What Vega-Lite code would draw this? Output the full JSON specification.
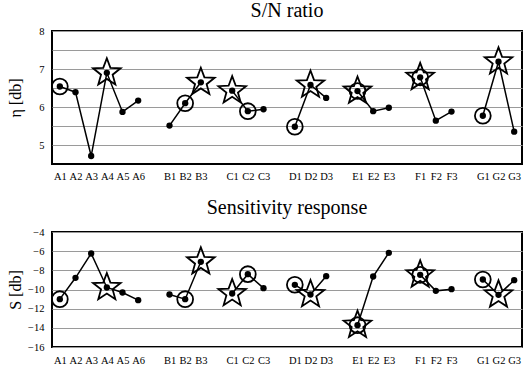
{
  "$schema": "https://vega.github.io/schema/vega-lite/v6.json",
  "padding": {"left": 6, "top": 0, "right": 0, "bottom": 0},
  "spacing": 14,
  "background": "white",
  "config": {
    "font": "'Liberation Serif', 'Times New Roman', serif",
    "view": {"stroke": "black", "strokeWidth": 2},
    "axis": {"domain": false, "ticks": false, "labelFont": "'Liberation Serif', 'Times New Roman', serif", "labelFontSize": 10.5, "labelColor": "black", "gridColor": "#9a9a9a", "gridWidth": 1, "titleFont": "'Liberation Serif', 'Times New Roman', serif", "titleFontWeight": "normal", "titleFontSize": 16, "titleColor": "black"},
    "title": {"font": "'Liberation Serif', 'Times New Roman', serif", "fontWeight": "normal", "fontSize": 20, "color": "black"}
  },
  "datasets": {
    "sn": [
      {"factor": "A", "level": "A1", "value": 6.54, "circle": true, "star": false},
      {"factor": "A", "level": "A2", "value": 6.39, "circle": false, "star": false},
      {"factor": "A", "level": "A3", "value": 4.71, "circle": false, "star": false},
      {"factor": "A", "level": "A4", "value": 6.90, "circle": false, "star": true},
      {"factor": "A", "level": "A5", "value": 5.87, "circle": false, "star": false},
      {"factor": "A", "level": "A6", "value": 6.17, "circle": false, "star": false},
      {"factor": "B", "level": "B1", "value": 5.51, "circle": false, "star": false},
      {"factor": "B", "level": "B2", "value": 6.10, "circle": true, "star": false},
      {"factor": "B", "level": "B3", "value": 6.65, "circle": false, "star": true},
      {"factor": "C", "level": "C1", "value": 6.43, "circle": false, "star": true},
      {"factor": "C", "level": "C2", "value": 5.89, "circle": true, "star": false},
      {"factor": "C", "level": "C3", "value": 5.94, "circle": false, "star": false},
      {"factor": "D", "level": "D1", "value": 5.48, "circle": true, "star": false},
      {"factor": "D", "level": "D2", "value": 6.58, "circle": false, "star": true},
      {"factor": "D", "level": "D3", "value": 6.24, "circle": false, "star": false},
      {"factor": "E", "level": "E1", "value": 6.42, "circle": true, "star": true},
      {"factor": "E", "level": "E2", "value": 5.89, "circle": false, "star": false},
      {"factor": "E", "level": "E3", "value": 5.98, "circle": false, "star": false},
      {"factor": "F", "level": "F1", "value": 6.78, "circle": true, "star": true},
      {"factor": "F", "level": "F2", "value": 5.64, "circle": false, "star": false},
      {"factor": "F", "level": "F3", "value": 5.88, "circle": false, "star": false},
      {"factor": "G", "level": "G1", "value": 5.77, "circle": true, "star": false},
      {"factor": "G", "level": "G2", "value": 7.19, "circle": false, "star": true},
      {"factor": "G", "level": "G3", "value": 5.35, "circle": false, "star": false}
    ],
    "sens": [
      {"factor": "A", "level": "A1", "value": -11.01, "circle": true, "star": false},
      {"factor": "A", "level": "A2", "value": -8.78, "circle": false, "star": false},
      {"factor": "A", "level": "A3", "value": -6.24, "circle": false, "star": false},
      {"factor": "A", "level": "A4", "value": -9.79, "circle": false, "star": true},
      {"factor": "A", "level": "A5", "value": -10.31, "circle": false, "star": false},
      {"factor": "A", "level": "A6", "value": -11.11, "circle": false, "star": false},
      {"factor": "B", "level": "B1", "value": -10.52, "circle": false, "star": false},
      {"factor": "B", "level": "B2", "value": -11.01, "circle": true, "star": false},
      {"factor": "B", "level": "B3", "value": -7.11, "circle": false, "star": true},
      {"factor": "C", "level": "C1", "value": -10.42, "circle": false, "star": true},
      {"factor": "C", "level": "C2", "value": -8.40, "circle": true, "star": false},
      {"factor": "C", "level": "C3", "value": -9.86, "circle": false, "star": false},
      {"factor": "D", "level": "D1", "value": -9.51, "circle": true, "star": false},
      {"factor": "D", "level": "D2", "value": -10.52, "circle": false, "star": true},
      {"factor": "D", "level": "D3", "value": -8.61, "circle": false, "star": false},
      {"factor": "E", "level": "E1", "value": -13.72, "circle": true, "star": true},
      {"factor": "E", "level": "E2", "value": -8.64, "circle": false, "star": false},
      {"factor": "E", "level": "E3", "value": -6.17, "circle": false, "star": false},
      {"factor": "F", "level": "F1", "value": -8.47, "circle": true, "star": true},
      {"factor": "F", "level": "F2", "value": -10.14, "circle": false, "star": false},
      {"factor": "F", "level": "F3", "value": -9.97, "circle": false, "star": false},
      {"factor": "G", "level": "G1", "value": -8.96, "circle": true, "star": false},
      {"factor": "G", "level": "G2", "value": -10.56, "circle": false, "star": true},
      {"factor": "G", "level": "G3", "value": -9.03, "circle": false, "star": false}
    ]
  },
  "vconcat": [
    {
      "width": 470,
      "height": 133,
      "title": {"text": "S/N ratio", "offset": 5},
      "data": {"name": "sn"},
      "encoding": {
        "x": {"field": "level", "type": "ordinal", "title": null,
          "scale": {"type": "point", "padding": 0.5, "domain": ["A1","A2","A3","A4","A5","A6","g1","B1","B2","B3","g2","C1","C2","C3","g3","D1","D2","D3","g4","E1","E2","E3","g5","F1","F2","F3","g6","G1","G2","G3"]},
          "axis": {"labelAngle": 0, "grid": false, "labelPadding": 7, "labelExpr": "indexof(datum.label, 'g') == 0 ? '' : datum.label"}},
        "y": {"field": "value", "type": "quantitative", "title": "η [db]",
          "scale": {"domain": [4.5, 8], "nice": false, "zero": false},
          "axis": {"values": [5, 5.5, 6, 6.5, 7, 7.5, 8], "labelExpr": "datum.value % 1 == 0 ? format(datum.value, 'd') : ''", "labelPadding": 8, "titleX": -37, "titleBaseline": "middle"}}
      },
      "layer": [
        {"mark": {"type": "line", "color": "black", "strokeWidth": 1.5}, "encoding": {"detail": {"field": "factor"}}},
        {"mark": {"type": "point", "filled": true, "color": "black", "size": 40, "opacity": 1}},
        {"transform": [{"filter": "datum.circle"}], "mark": {"type": "point", "shape": "circle", "filled": false, "stroke": "black", "strokeWidth": 1.8, "size": 250, "opacity": 1}},
        {"transform": [{"filter": "datum.star"}], "mark": {"type": "point", "shape": "M0,-1L0.247,-0.34L0.951,-0.309L0.399,0.13L0.588,0.809L0,0.42L-0.588,0.809L-0.399,0.13L-0.951,-0.309L-0.247,-0.34Z", "filled": false, "stroke": "black", "strokeWidth": 1.8, "size": 841, "opacity": 1}}
      ]
    },
    {
      "width": 470,
      "height": 115,
      "title": {"text": "Sensitivity response", "offset": 9},
      "data": {"name": "sens"},
      "encoding": {
        "x": {"field": "level", "type": "ordinal", "title": null,
          "scale": {"type": "point", "padding": 0.5, "domain": ["A1","A2","A3","A4","A5","A6","g1","B1","B2","B3","g2","C1","C2","C3","g3","D1","D2","D3","g4","E1","E2","E3","g5","F1","F2","F3","g6","G1","G2","G3"]},
          "axis": {"labelAngle": 0, "grid": false, "labelPadding": 8, "labelExpr": "indexof(datum.label, 'g') == 0 ? '' : datum.label"}},
        "y": {"field": "value", "type": "quantitative", "title": "S [db]",
          "scale": {"domain": [-16, -4], "nice": false, "zero": false},
          "axis": {"values": [-16, -14, -12, -10, -8, -6, -4], "labelPadding": 8, "titleX": -37, "titleBaseline": "middle"}}
      },
      "layer": [
        {"mark": {"type": "line", "color": "black", "strokeWidth": 1.5}, "encoding": {"detail": {"field": "factor"}}},
        {"mark": {"type": "point", "filled": true, "color": "black", "size": 40, "opacity": 1}},
        {"transform": [{"filter": "datum.circle"}], "mark": {"type": "point", "shape": "circle", "filled": false, "stroke": "black", "strokeWidth": 1.8, "size": 250, "opacity": 1}},
        {"transform": [{"filter": "datum.star"}], "mark": {"type": "point", "shape": "M0,-1L0.247,-0.34L0.951,-0.309L0.399,0.13L0.588,0.809L0,0.42L-0.588,0.809L-0.399,0.13L-0.951,-0.309L-0.247,-0.34Z", "filled": false, "stroke": "black", "strokeWidth": 1.8, "size": 841, "opacity": 1}}
      ]
    }
  ]
}
